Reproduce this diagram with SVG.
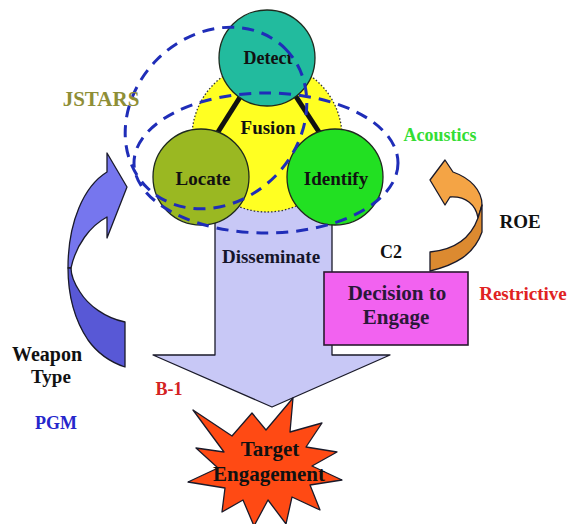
<svg xmlns="http://www.w3.org/2000/svg" width="571" height="524" viewBox="0 0 571 524">
  <style>
    .node { stroke: #1e2a1e; stroke-width: 1.3; }
    .ring { fill: none; stroke: #1f2db8; stroke-width: 3; stroke-dasharray: 12 8; }
    .link { stroke: #111; stroke-width: 5; }
    .edge { stroke: #1a1a2a; stroke-width: 1.3; stroke-linejoin: round; }
  </style>
  <rect width="571" height="524" fill="#ffffff"/>

  <g font-family="Liberation Serif, Times New Roman, serif" font-weight="bold" text-anchor="middle">

  <!-- big down arrow: Disseminate -->
  <g id="disseminate">
    <path class="edge" fill="#c8c8f6" d="M215,190 L332,190 L332,355 L390,355 L272,407 L153,355 L215,355 Z"/>
    <text x="271" y="263" font-size="19" fill="#15152a">Disseminate</text>
  </g>

  <!-- fusion core -->
  <g id="fusion">
    <circle cx="267" cy="137" r="75" fill="#ffff22" stroke="#333" stroke-width="1.3" stroke-dasharray="1.5 2"/>
  </g>

  <g id="connectors">
    <line class="link" x1="242" y1="94" x2="218" y2="132"/>
    <line class="link" x1="293" y1="92" x2="319" y2="132"/>
  </g>

  <g id="fusion-label">
    <text x="268" y="134" font-size="19" fill="#111">Fusion</text>
  </g>

  <g id="detect">
    <circle class="node" cx="267" cy="58" r="48" fill="#22bb9e"/>
    <text x="268" y="64" font-size="18" fill="#111">Detect</text>
  </g>
  <g id="locate">
    <circle class="node" cx="201" cy="177" r="48" fill="#9ab822"/>
    <text x="203" y="185" font-size="19" fill="#111">Locate</text>
  </g>
  <g id="identify">
    <circle class="node" cx="335" cy="177" r="48" fill="#22e022"/>
    <text x="336" y="185" font-size="19" fill="#111">Identify</text>
  </g>

  <!-- dashed coverage rings -->
  <g id="coverage">
    <ellipse class="ring" cx="216" cy="118" rx="98" ry="83" transform="rotate(-45 216 118)"/>
    <ellipse class="ring" cx="266" cy="163" rx="132" ry="70"/>
  </g>

  <!-- weapon type curved arrow -->
  <g id="weapon-arrow">
    <path class="edge" fill="#7676ee" d="M68,268 C68,222 84,186 107,172 L107,153 L127,187 L107,238 L107,217 C90,226 76,245 71,268 Z"/>
    <path class="edge" fill="#5858d6" d="M68,268 C68,300 76,322 88,340 C98,354 110,362 125,367 L125,322 C105,318 88,305 80,292 C74,283 71,275 71,268 Z"/>
  </g>

  <!-- ROE curved arrow -->
  <g id="roe-arrow">
    <path class="edge" fill="#f4a445" d="M478,218 C476,205 466,196 450,197 L445,205 L430,180 L445,160 L453,172 C470,178 482,190 482,205 Z"/>
    <path class="edge" fill="#dc8a30" d="M482,205 L482,232 C474,255 455,265 430,271 L430,252 C452,250 470,240 478,218 Z"/>
  </g>

  <g id="decision">
    <rect x="324" y="272" width="144" height="73" fill="#f262f0" stroke="#2a1a30" stroke-width="1.6"/>
    <text x="397" y="300" font-size="21" fill="#2a1838">Decision to</text>
    <text x="396" y="324" font-size="21" fill="#2a1838">Engage</text>
  </g>

  <g id="target">
    <polygon class="edge" fill="#ff4a14" points="193,410 232,436 252,413 266,430 293,398 290,432 322,423 306,447 337,452 312,466 342,480 310,485 320,510 292,497 286,524 268,500 254,526 243,500 222,512 225,488 188,482 218,468 196,448 224,452"/>
    <text x="270" y="456" font-size="21" fill="#111">Target</text>
    <text x="269" y="481" font-size="21" fill="#111">Engagement</text>
  </g>

  <!-- side labels -->
  <g id="labels">
    <text x="101" y="106" font-size="21" fill="#8e8e36">JSTARS</text>
    <text x="440" y="141" font-size="18" fill="#33dd33">Acoustics</text>
    <text x="520" y="228" font-size="19" fill="#111">ROE</text>
    <text x="391" y="258" font-size="18" fill="#111">C2</text>
    <text x="523" y="300" font-size="19" fill="#e02222">Restrictive</text>
    <text x="47" y="361" font-size="20" fill="#111">Weapon</text>
    <text x="51" y="383" font-size="19" fill="#111">Type</text>
    <text x="56" y="429" font-size="18" fill="#2626cc">PGM</text>
    <text x="169" y="395" font-size="18" fill="#d42222">B-1</text>
  </g>

  </g>
</svg>
